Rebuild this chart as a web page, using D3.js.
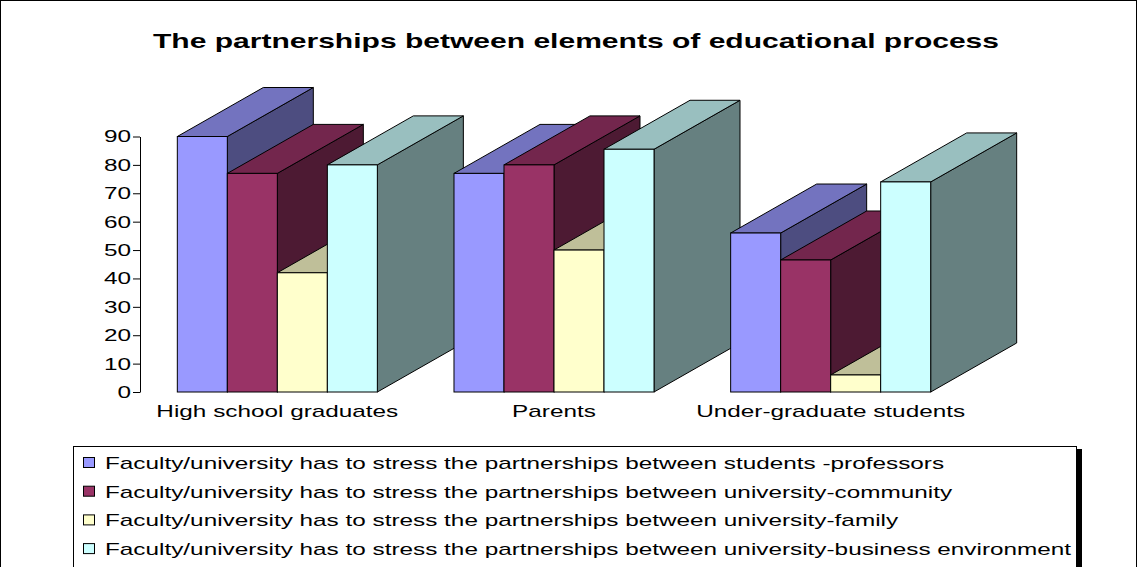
<!DOCTYPE html>
<html>
<head>
<meta charset="utf-8">
<script src="https://cdn.jsdelivr.net/npm/d3@7"></script>
<style>
  body { margin: 0; background: #fff; }
  text { font-family: "Liberation Sans", Arial, sans-serif; fill: #000; }
</style>
</head>
<body>
<div class="chart"></div>
<script>
// data
const categories = ["High school graduates", "Parents", "Under-graduate students"];
const seriesNames = [
  "Faculty/university has to stress the partnerships between students -professors",
  "Faculty/university has to stress the partnerships between university-community",
  "Faculty/university has to stress the partnerships between university-family",
  "Faculty/university has to stress the partnerships between university-business environment"
];
const studentsProfessors = [90, 77, 56];
const universityCommunity = [77, 80, 46.5];
const universityFamily = [42, 50, 6];
const universityBusiness = [80, 85.5, 74];
const yTicks = [0, 10, 20, 30, 40, 50, 60, 70, 80, 90];

const seriesValues = [studentsProfessors, universityCommunity, universityFamily, universityBusiness];
// front / top / side colours like the old excel 3d columns
const colors = [
  { front: "#9999FF", top: "#7373BF", side: "#4D4D80" },
  { front: "#993366", top: "#73264D", side: "#4D1A33" },
  { front: "#FFFFCC", top: "#BFBF99", side: "#808066" },
  { front: "#CCFFFF", top: "#99BFBF", side: "#668080" }
];

const svgWidth = 1138, svgHeight = 567;
const SX = 1.43;      // the picture is stretched sideways, text too
const depthX = 86, depthY = -49;

function stretch(sel) {
  sel.each(function () {
    let w = this.getComputedTextLength();
    d3.select(this).attr("textLength", w * SX).attr("lengthAdjust", "spacingAndGlyphs");
  });
}

let svg = d3.select(".chart")
  .append("svg")
  .attr("width", svgWidth)
  .attr("height", svgHeight);

svg.append("rect")
  .attr("x", 0.5).attr("y", 0.5)
  .attr("width", 1136).attr("height", 620)
  .attr("fill", "#fff").attr("stroke", "#000");

svg.append("text")
  .attr("x", 576).attr("y", 48)
  .attr("text-anchor", "middle")
  .style("font-size", "21px").style("font-weight", "bold")
  .text("The partnerships between elements of educational process")
  .call(stretch);

let x = d3.scaleBand()
  .domain(categories)
  .range([139, 969])
  .paddingInner(0.277)
  .paddingOuter(0.1385);

let xs = d3.scaleBand()
  .domain(d3.range(seriesNames.length))
  .range([0, x.bandwidth()]);

let y = d3.scaleLinear()
  .domain([0, 90])
  .range([392, 136.5]);

// y axis
let yAxis = svg.append("g")
  .attr("transform", "translate(140,0)")
  .call(d3.axisLeft(y).tickValues(yTicks).tickSize(7).tickSizeOuter(0).tickPadding(2));
yAxis.select(".domain").attr("stroke", "#000");
yAxis.selectAll(".tick line").attr("stroke", "#000");
yAxis.selectAll("text")
  .style("font-size", "17px")
  .attr("font-family", null)
  .call(stretch);

// bars, drawn group by group, series by series
let bars = [];
categories.forEach(function (c, i) {
  seriesValues.forEach(function (vals, s) {
    bars.push({ cat: c, s: s, v: vals[i] });
  });
});

let y0 = y(0);
let barG = svg.append("g").selectAll("g")
  .data(bars)
  .enter().append("g");

barG.append("path")
  .attr("d", function (d) {
    let x1 = x(d.cat) + xs(d.s) + xs.bandwidth(), yv = y(d.v);
    return "M" + x1 + "," + yv + "L" + (x1 + depthX) + "," + (yv + depthY) +
      "L" + (x1 + depthX) + "," + (y0 + depthY) + "L" + x1 + "," + y0 + "Z";
  })
  .attr("fill", d => colors[d.s].side)
  .attr("stroke", "#000").attr("stroke-linejoin", "round");

barG.append("path")
  .attr("d", function (d) {
    let x0 = x(d.cat) + xs(d.s), x1 = x0 + xs.bandwidth(), yv = y(d.v);
    return "M" + x0 + "," + yv + "L" + (x0 + depthX) + "," + (yv + depthY) +
      "L" + (x1 + depthX) + "," + (yv + depthY) + "L" + x1 + "," + yv + "Z";
  })
  .attr("fill", d => colors[d.s].top)
  .attr("stroke", "#000").attr("stroke-linejoin", "round");

barG.append("rect")
  .attr("x", d => x(d.cat) + xs(d.s))
  .attr("y", d => y(d.v))
  .attr("width", xs.bandwidth())
  .attr("height", d => y0 - y(d.v))
  .attr("fill", d => colors[d.s].front)
  .attr("stroke", "#000");

// category labels
svg.append("g").selectAll("text")
  .data(categories)
  .enter().append("text")
  .attr("x", d => x(d) + x.bandwidth() / 2)
  .attr("y", 417)
  .attr("text-anchor", "middle")
  .style("font-size", "17px")
  .text(d => d)
  .call(stretch);

// legend
svg.append("rect")
  .attr("x", 1077).attr("y", 449)
  .attr("width", 5).attr("height", 200)
  .attr("fill", "#000");
svg.append("rect")
  .attr("x", 73.5).attr("y", 446.5)
  .attr("width", 1003).attr("height", 200)
  .attr("fill", "#fff").attr("stroke", "#000");

let legend = svg.append("g").selectAll("g")
  .data(seriesNames)
  .enter().append("g")
  .attr("transform", (d, i) => "translate(0," + (463 + i * 28.7) + ")");
legend.append("rect")
  .attr("x", 83.5).attr("y", -5.5)
  .attr("width", 11).attr("height", 10)
  .attr("fill", (d, i) => colors[i].front)
  .attr("stroke", "#000");
legend.append("text")
  .attr("x", 105).attr("y", 6)
  .style("font-size", "17px")
  .text(d => d)
  .call(stretch);
</script>
</body>
</html>
